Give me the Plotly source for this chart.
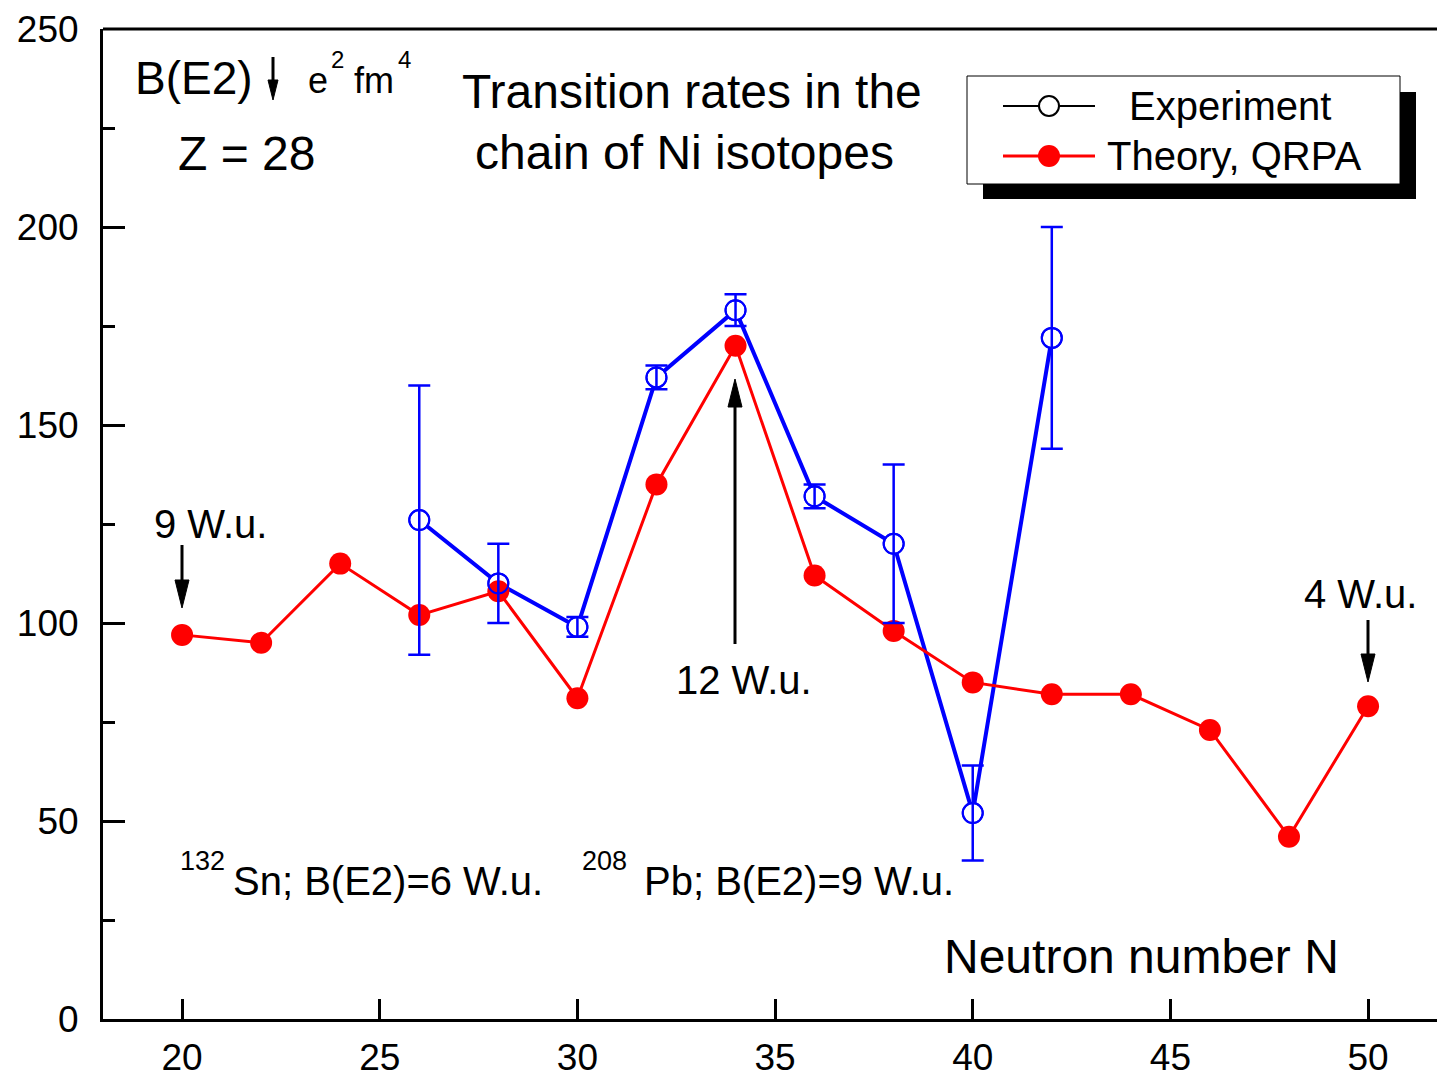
import plotly.graph_objects as go

# ---------------- data ----------------
n_theory = [20, 22, 24, 26, 28, 30, 32, 34, 36, 38, 40, 42, 44, 46, 48, 50]
b_theory = [97, 95, 115, 102, 108, 81, 135, 170, 112, 98, 85, 82, 82, 73, 46, 79]

n_exp = [26, 28, 30, 32, 34, 36, 38, 40, 42]
b_exp = [126, 110, 99, 162, 179, 132, 120, 52, 172]
b_exp_err = [34, 10, 2.5, 3, 4, 3, 20, 12, 28]

x_ticks = [20, 25, 30, 35, 40, 45, 50]
y_ticks = [0, 50, 100, 150, 200, 250]

FONT = "Liberation Sans, Arial, sans-serif"
W, H = 1437, 1077
L, R, T, B = 103, 1437, 29, 1019


def px(x):
    return (x - L) / (R - L)


def py(y):
    return (B - y) / (B - T)


fig = go.Figure()

# Experiment: line + white-filled markers (underneath theory)
fig.add_trace(go.Scatter(
    x=n_exp, y=b_exp, mode="lines+markers",
    line=dict(color="#0000ff", width=4),
    marker=dict(symbol="circle", size=20, color="white",
                line=dict(color="#0000ff", width=2)),
    showlegend=False, hoverinfo="skip"))

# Theory
fig.add_trace(go.Scatter(
    x=n_theory, y=b_theory, mode="lines+markers",
    line=dict(color="#ff0000", width=3),
    marker=dict(symbol="circle", size=22, color="#ff0000"),
    showlegend=False))

# Experiment outlines + error bars on top
fig.add_trace(go.Scatter(
    x=n_exp, y=b_exp, mode="markers",
    marker=dict(symbol="circle", size=20, color="rgba(0,0,0,0)",
                line=dict(color="#0000ff", width=2)),
    error_y=dict(type="data", array=b_exp_err, visible=True,
                 color="#0000ff", thickness=2.5, width=11),
    showlegend=False))

shapes = []
# top frame line
shapes.append(dict(type="line", xref="paper", yref="paper", x0=0, x1=1, y0=1, y1=1,
                   line=dict(color="black", width=3)))
# legend shadow + box
shapes.append(dict(type="rect", xref="paper", yref="paper",
                   x0=px(983), x1=px(1416), y0=py(199), y1=py(92),
                   fillcolor="black", line=dict(color="black", width=0)))
shapes.append(dict(type="rect", xref="paper", yref="paper",
                   x0=px(967), x1=px(1400), y0=py(184), y1=py(76),
                   fillcolor="white", line=dict(color="black", width=1)))
# legend samples
shapes.append(dict(type="line", xref="paper", yref="paper",
                   x0=px(1003), x1=px(1095), y0=py(106), y1=py(106),
                   line=dict(color="black", width=2)))
shapes.append(dict(type="line", xref="paper", yref="paper",
                   x0=px(1003), x1=px(1095), y0=py(156), y1=py(156),
                   line=dict(color="#ff0000", width=3)))
shapes.append(dict(type="circle", xref="paper", yref="paper",
                   xsizemode="pixel", ysizemode="pixel",
                   xanchor=px(1049), yanchor=py(106),
                   x0=-10, x1=10, y0=-10, y1=10,
                   fillcolor="white", line=dict(color="black", width=2)))
shapes.append(dict(type="circle", xref="paper", yref="paper",
                   xsizemode="pixel", ysizemode="pixel",
                   xanchor=px(1049), yanchor=py(156),
                   x0=-11, x1=11, y0=-11, y1=11,
                   fillcolor="#ff0000", line=dict(color="#ff0000", width=0)))


def arrow(x, y_tip, y_tail, head_len=28, half_w=7, width=3):
    """Vertical arrow in pixel coordinates (y grows downward)."""
    down = y_tail < y_tip
    s = 1 if down else -1
    shaft_end = y_tip - s * (head_len - 4)
    shapes.append(dict(type="line", xref="paper", yref="paper",
                       x0=px(x), x1=px(x), y0=py(y_tail), y1=py(shaft_end),
                       line=dict(color="black", width=width)))
    # triangle head, pixel offsets relative to the tip (path y is upward)
    hy = s * head_len  # upward offset for base when arrow points down
    path = f"M0,0 L{-half_w},{hy} L{half_w},{hy} Z"
    shapes.append(dict(type="path", xref="paper", yref="paper",
                       xsizemode="pixel", ysizemode="pixel",
                       xanchor=px(x), yanchor=py(y_tip), path=path,
                       fillcolor="black", line=dict(color="black", width=1)))


arrow(735, 379, 644)
arrow(182, 608, 545)
arrow(1368, 682, 620)
arrow(273, 100, 57, head_len=20, half_w=5, width=3)

ann = []


def text(t, x, y, size, anchor="left"):
    ann.append(dict(text=t, x=px(x), y=py(y), xref="paper", yref="paper",
                    xanchor=anchor, yanchor="middle", showarrow=False,
                    font=dict(family=FONT, size=size, color="black")))


text("Experiment", 1127, 106, 40)
text("Theory, QRPA", 1105, 156, 40)
text("B(E2)", 133, 78, 46)
text("e", 306, 80, 36)
text("2", 329, 60, 24)
text("fm", 352, 80, 36)
text("4", 396, 60, 24)
text("Z = 28", 176, 153, 48)
text("Transition rates in the", 692, 92, 48, "center")
text("chain of Ni isotopes", 684, 152, 48, "center")
text("Neutron number N", 1141, 956, 48, "center")
text("12 W.u.", 744, 680, 40, "center")
text("9 W.u.", 210, 524, 40, "center")
text("4 W.u.", 1360, 594, 40, "center")
text("132", 178, 861, 27)
text("Sn; B(E2)=6 W.u.", 231, 881, 40)
text("208", 580, 861, 27)
text("Pb; B(E2)=9 W.u.", 642, 881, 40)

fig.update_layout(
    width=W, height=H,
    margin=dict(l=L, r=W - R, t=T, b=H - B),
    paper_bgcolor="white", plot_bgcolor="white",
    font=dict(family=FONT, color="black"),
    shapes=shapes, annotations=ann,
    xaxis=dict(range=[18, 18 + (R - L) / 39.533], tickvals=x_ticks,
               showgrid=False, zeroline=False, showline=True, automargin=False,
               linecolor="black", linewidth=3,
               ticks="inside", ticklen=20, tickwidth=3, tickcolor="black",
               tickfont=dict(family=FONT, size=37, color="black"),
               ticklabelstandoff=4),
    yaxis=dict(range=[0, 250], tickvals=y_ticks,
               showgrid=False, zeroline=False, showline=True, automargin=False,
               linecolor="black", linewidth=3,
               ticks="inside", ticklen=22, tickwidth=3, tickcolor="black",
               minor=dict(dtick=25, tick0=0, ticks="inside", ticklen=12,
                          tickwidth=3, tickcolor="black", showgrid=False),
               tickfont=dict(family=FONT, size=37, color="black"),
               ticklabelstandoff=14),
)

fig.write_html("out.html")
